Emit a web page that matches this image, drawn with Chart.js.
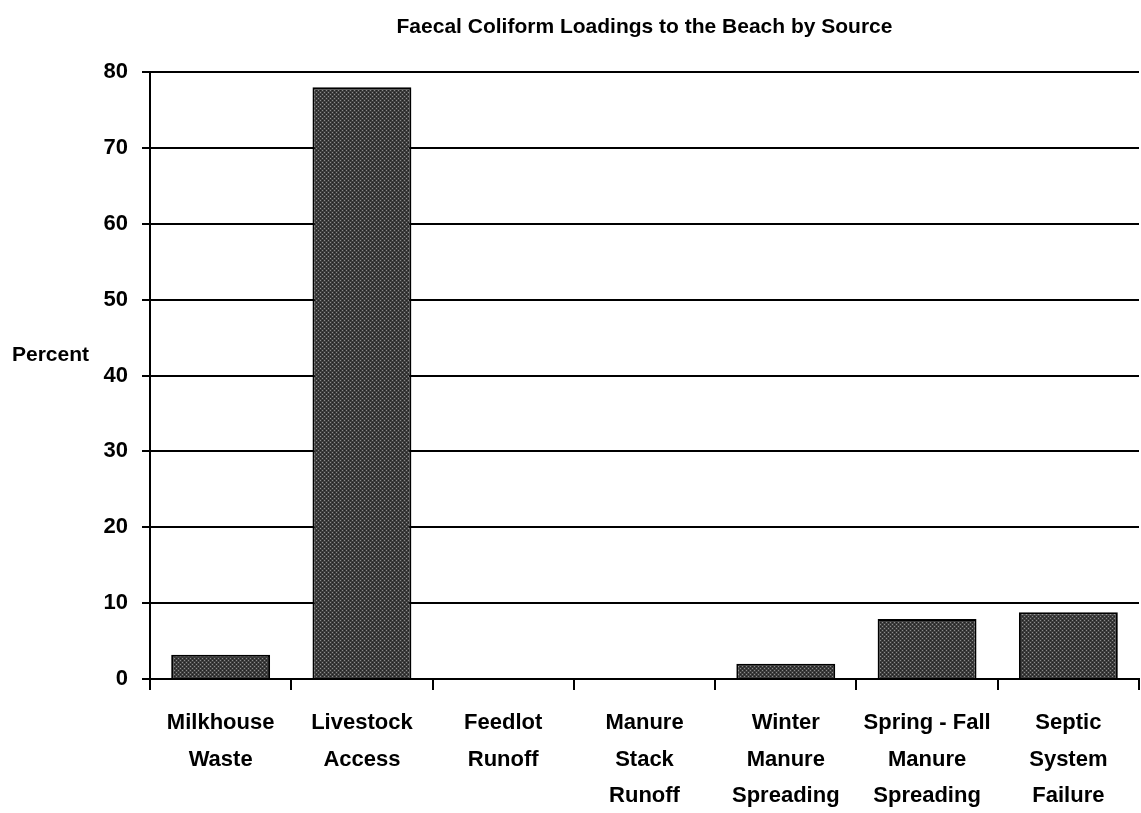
<!DOCTYPE html>
<html>
<head>
<meta charset="utf-8">
<script src="https://cdn.jsdelivr.net/npm/chart.js@4.4.1/dist/chart.umd.min.js"></script>
<style>
  html, body { margin: 0; padding: 0; background: #fff; }
  #wrap { width: 1141px; height: 813px; }
</style>
</head>
<body>
<div id="wrap"><canvas id="grafico"></canvas></div>
<script>
const categorias = [
    ['Milkhouse', 'Waste'],
    ['Livestock', 'Access'],
    ['Feedlot', 'Runoff'],
    ['Manure', 'Stack', 'Runoff'],
    ['Winter', 'Manure', 'Spreading'],
    ['Spring - Fall', 'Manure', 'Spreading'],
    ['Septic', 'System', 'Failure']
];
const percentuais = [3.2, 78, 0, 0, 2, 7.9, 8.8];
const ticksY = [0, 10, 20, 30, 40, 50, 60, 70, 80];
const titulo = 'Faecal Coliform Loadings to the Beach by Source';

const fonte = "'Liberation Sans', Arial, sans-serif";

// textura pontilhada das barras
function criarTextura() {
    const c = document.createElement('canvas');
    c.width = 4;
    c.height = 4;
    const g = c.getContext('2d');
    g.fillStyle = '#3c3c3c';
    g.fillRect(0, 0, 4, 4);
    g.fillStyle = '#8c8c8c';
    g.fillRect(0, 0, 1, 1);
    g.fillRect(2, 2, 1, 1);
    g.fillStyle = '#222';
    g.fillRect(2, 0, 1, 1);
    g.fillRect(0, 2, 1, 1);
    return g.createPattern(c, 'repeat');
}

// título centrado sobre a área do gráfico e rótulo "Percent" na horizontal
const textosExtras = {
    id: 'textosExtras',
    afterDraw(chart) {
        const ctx = chart.ctx;
        const area = chart.chartArea;
        ctx.save();
        ctx.fillStyle = '#000';
        ctx.textBaseline = 'middle';

        ctx.font = 'bold 21px ' + fonte;
        ctx.textAlign = 'center';
        ctx.fillText(titulo, (area.left + area.right) / 2, 27);

        ctx.font = 'bold 21px ' + fonte;
        ctx.textAlign = 'left';
        ctx.fillText('Percent', 12, 355);
        ctx.restore();
    }
};

const ctx = document.getElementById('grafico').getContext('2d');
new Chart(ctx, {
    type: 'bar',
    data: {
        labels: categorias,
        datasets: [{
            data: percentuais,
            backgroundColor: criarTextura(),
            borderColor: '#000',
            borderWidth: 2,
            barPercentage: 0.7,
            categoryPercentage: 1
        }]
    },
    options: {
        responsive: true,
        maintainAspectRatio: false,
        animation: false,
        layout: { padding: { left: 0, right: 2, top: 72, bottom: 0 } },
        plugins: {
            legend: { display: false },
            tooltip: { enabled: false },
            title: { display: false }
        },
        scales: {
            x: {
                afterFit(scale) { scale.height = 134; },
                grid: {
                    offset: true,
                    drawOnChartArea: false,
                    drawTicks: true,
                    tickLength: 11,
                    color: '#000',
                    lineWidth: 2
                },
                border: { display: true, color: '#000', width: 2 },
                ticks: {
                    color: '#000',
                    padding: 14,
                    maxRotation: 0,
                    autoSkip: false,
                    font: { family: fonte, size: 22, weight: 'bold', lineHeight: 1.68 }
                }
            },
            y: {
                min: 0,
                max: 80,
                afterFit(scale) { scale.width = 150; },
                afterBuildTicks(scale) {
                    scale.ticks = ticksY.map(v => ({ value: v }));
                },
                grid: {
                    color: '#000',
                    lineWidth: 2,
                    tickLength: 8
                },
                border: { display: true, color: '#000', width: 2 },
                ticks: {
                    color: '#000',
                    padding: 14,
                    font: { family: fonte, size: 22, weight: 'bold' }
                }
            }
        }
    },
    plugins: [textosExtras]
});
</script>
</body>
</html>
